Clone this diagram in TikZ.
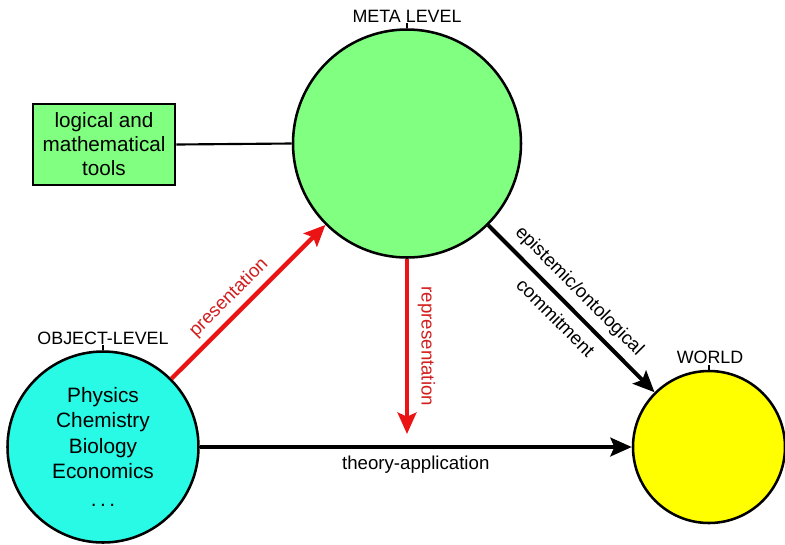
\documentclass[tikz,border=0pt]{standalone}
\usepackage{fontspec}
\setmainfont{Liberation Sans}
\usetikzlibrary{arrows.meta}
\definecolor{metagreen}{RGB}{128,255,128}
\definecolor{objcyan}{RGB}{40,250,230}
\definecolor{worldyellow}{RGB}{255,255,0}
\definecolor{arrred}{RGB}{235,20,20}
\definecolor{txtred}{RGB}{210,30,30}
\tikzset{
  circ/.style={circle, draw=black, line width=1.9pt, inner sep=0pt, align=center},
  toolbox/.style={rectangle, draw=black, line width=2.2pt, fill=metagreen, align=center,
    minimum width=106.5pt, minimum height=60.75pt, inner sep=0pt,
    font=\fontsize{15.5}{18}\selectfont},
  lvl/.style={font=\fontsize{13.4}{16}\selectfont, inner sep=0pt},
  blackarr/.style={draw=black, line width=3pt, -{Stealth[length=16pt, width=14pt, inset=3pt]}},
  redarr/.style={draw=arrred, line width=3.3pt, -{Stealth[length=16pt, width=14pt, inset=3pt]}},
  lbl/.style={font=\fontsize{14}{16}\selectfont, text=black},
  redlbl/.style={font=\fontsize{14}{16}\selectfont, text=txtred},
  tick/.style={draw=black, line width=1pt}
}
\begin{document}
\begin{tikzpicture}[x=0.75pt, y=-0.75pt]
\useasboundingbox (0,0) rectangle (785,544);
% circles
\node[circ, fill=metagreen, minimum size=171pt] (meta) at (407,143.5) {};
\node[circ, fill=objcyan, minimum size=143.25pt,
      font=\fontsize{15.6}{19}\selectfont] (obj) at (103,447)
      {Physics\\Chemistry\\Biology\\Economics\\[2pt].\,.\,.};
\node[circ, fill=worldyellow, minimum size=114pt] (world) at (709,447) {};
% tools box
\node[toolbox] (tools) at (104,144.5) {logical and\\mathematical\\tools};
% level labels
\node[lvl] (metalbl) at (407,16) {META LEVEL};
\node[lvl] (objlbl) at (103,338) {OBJECT-LEVEL};
\node[lvl] (worldlbl) at (710,357) {WORLD};
\draw[tick] (meta.north) -- ++(0,-5);
\draw[tick] (obj.north) -- ++(0,-5);
\draw[tick] (world.north) -- ++(0,-5);
% connectors
\draw[draw=black, line width=1.6pt] (tools.east) -- (meta.west);
\draw[redarr] (obj) -- node[redlbl, sloped, above, pos=0.45, yshift=1pt] {presentation} (meta);
\coordinate (repend) at (407,434);
\draw[redarr] (meta.south) -- node[redlbl, sloped, above, pos=0.5, yshift=3pt] {representation} (repend);
\draw[blackarr] (meta) -- node[lbl, sloped, above, pos=0.47, yshift=2pt] {epistemic/ontological}
   node[lbl, sloped, below, pos=0.48, yshift=-3pt] {commitment} (world);
\draw[blackarr] (obj) -- node[lbl, below, pos=0.5, yshift=-2pt] {theory-application} (world);
\end{tikzpicture}
\end{document}
